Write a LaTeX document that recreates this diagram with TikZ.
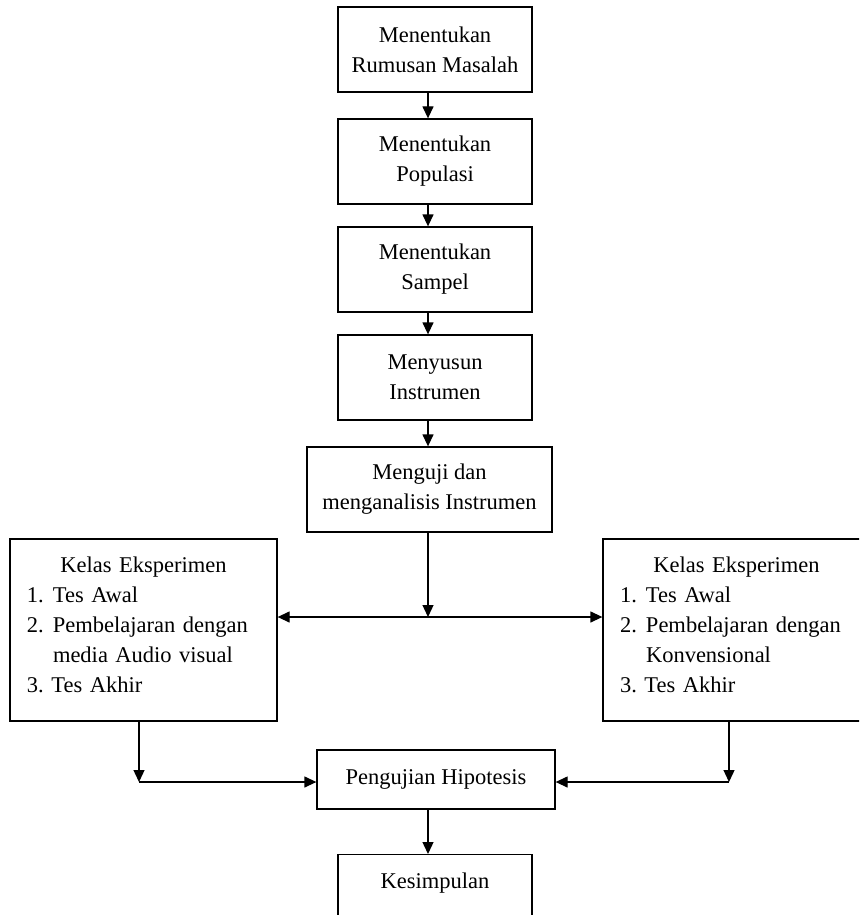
\documentclass[tikz,border=0pt]{standalone}
\usepackage{fontspec}
\setmainfont{Liberation Serif}
\usetikzlibrary{arrows.meta}
\frenchspacing

\newcommand{\numitem}[1]{\makebox[26pt][l]{#1}}

\begin{document}
\begin{tikzpicture}[x=1pt, y=-1pt,
  box/.style={draw, line width=1.3pt, align=center, inner sep=2pt,
              font=\fontsize{22.5}{30}\selectfont,
              minimum width=194pt, minimum height=85pt},
  kelas box/.style={box, align=left, text width=233pt, inner xsep=17pt,
                    minimum height=182pt, text depth=130pt},
  arrow/.style={line width=1.3pt, -{Triangle[length=12pt,width=11pt]}}]

\useasboundingbox (0,0) rectangle (859,915);
\clip (0,0) rectangle (859,915);

\node[box](rumusan) at (435,49.5) {Menentukan\\Rumusan Masalah};
\node[box](populasi) at (435,161.5) {Menentukan\\Populasi};
\node[box](sampel) at (435,269.5) {Menentukan\\Sampel};
\node[box](instrumen) at (435,377.5) {Menyusun\\Instrumen};
\node[box, minimum width=245pt](uji) at (429.5,489.5) {Menguji dan\\menganalisis Instrumen};

\node[kelas box](eksA) at (143.5,630) {\centering Kelas Eksperimen\par\raggedright
  \numitem{1.}Tes Awal\\\numitem{2.}Pembelajaran dengan\\\numitem{}media Audio visual\\3. Tes Akhir};
\node[kelas box](eksB) at (736.5,630) {\centering Kelas Eksperimen\par\raggedright
  \numitem{1.}Tes Awal\\\numitem{2.}Pembelajaran dengan\\\numitem{}Konvensional\\3. Tes Akhir};

\node[box, minimum width=238pt, minimum height=59pt](hipotesis) at (436,779.5) {Pengujian Hipotesis};
\node[box, anchor=north, minimum height=0pt, inner ysep=18pt, text depth=40pt](kesimpulan)
  at (435,854) {Kesimpulan};

\coordinate (fork) at (428,617);
\coordinate (turnA) at (139,782);
\coordinate (turnB) at (729,782);

\foreach \a/\b in {rumusan/populasi, populasi/sampel, sampel/instrumen, instrumen/uji}
  \draw[arrow] ([xshift=-7pt]\a.south) -- ([xshift=-7pt]\a.south |- \b.north);

\draw[arrow] (uji.south -| fork) -- (fork);
\draw[arrow, {Triangle[length=12pt,width=11pt]}-{Triangle[length=12pt,width=11pt]}]
  (eksA.east |- fork) -- (eksB.west |- fork);

\draw[arrow] (eksA.south -| turnA) -- (turnA);
\draw[arrow] (turnA) -- (hipotesis.west |- turnA);
\draw[arrow] (eksB.south -| turnB) -- (turnB);
\draw[arrow] (turnB) -- (hipotesis.east |- turnB);

\draw[arrow] ([xshift=-8pt]hipotesis.south) -- ([xshift=-8pt]hipotesis.south |- kesimpulan.north);

\end{tikzpicture}
\end{document}
